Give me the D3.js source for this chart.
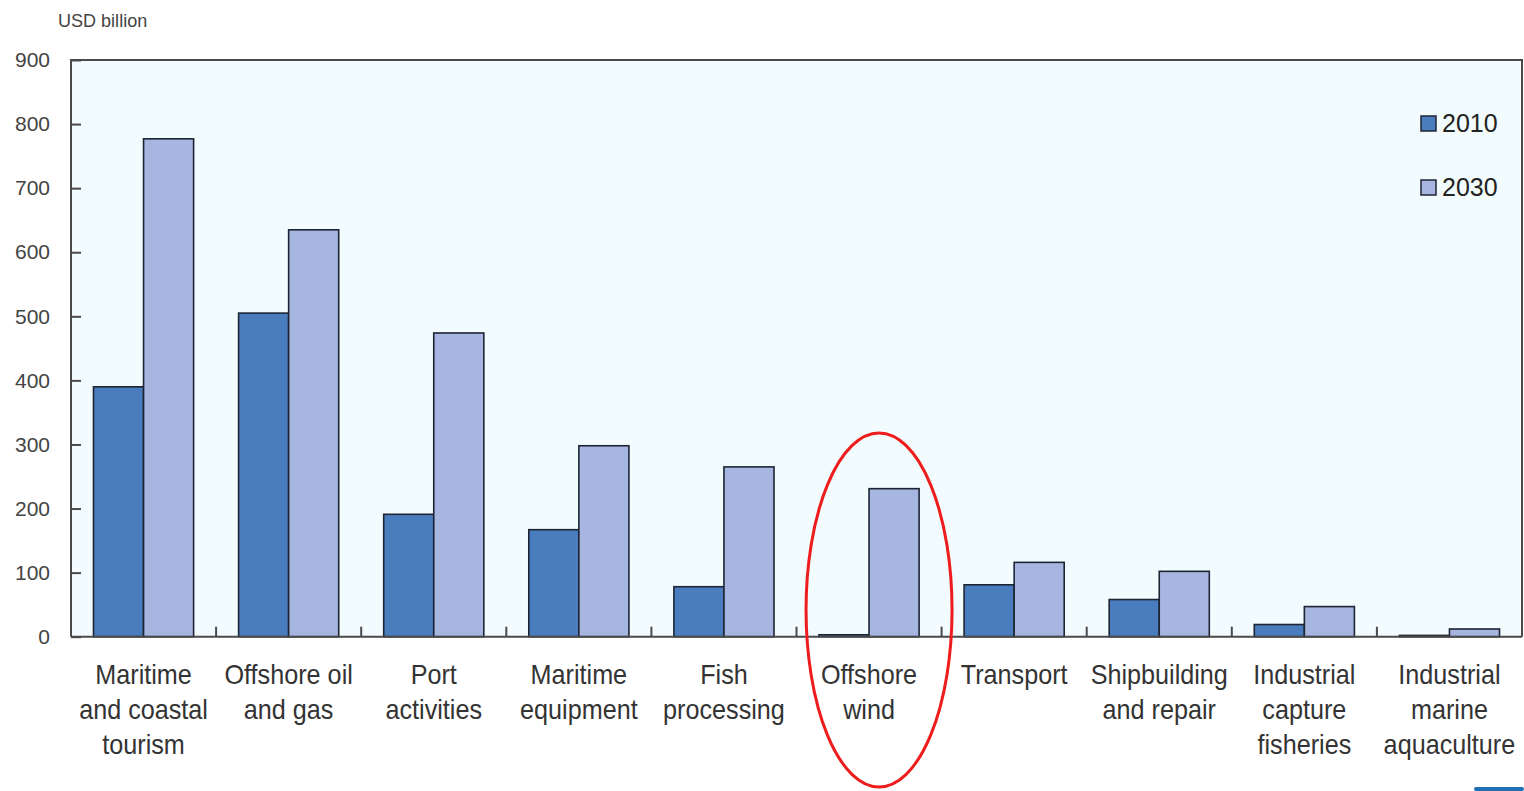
<!DOCTYPE html>
<html>
<head>
<meta charset="utf-8">
<script src="https://cdn.jsdelivr.net/npm/d3@7"></script>
<style>
  html, body { margin: 0; padding: 0; background: #ffffff; }
  svg { display: block; }
</style>
</head>
<body>
<svg id="chart" width="1524" height="791"></svg>
<script>
// Ocean economy output by industry, USD billion
const categories = [
  ["Maritime", "and coastal", "tourism"],
  ["Offshore oil", "and gas"],
  ["Port", "activities"],
  ["Maritime", "equipment"],
  ["Fish", "processing"],
  ["Offshore", "wind"],
  ["Transport"],
  ["Shipbuilding", "and repair"],
  ["Industrial", "capture", "fisheries"],
  ["Industrial", "marine", "aquaculture"]
];
const years = ["2010", "2030"];
const values2010 = [390, 505, 191, 167, 78, 3, 81, 58, 19, 2];
const values2030 = [777, 635, 474, 298, 265, 231, 116, 102, 47, 12];
const yTicks = [0, 100, 200, 300, 400, 500, 600, 700, 800, 900];
const highlighted = "Offshore wind";

const colors = { "2010": "#4a7dbd", "2030": "#a6b6e0" };

const svg = d3.select("#chart");
const plot = { left: 71, right: 1522, top: 60, bottom: 636.7 };

const catKeys = categories.map(c => c.join(" "));
const series = years.map((y, i) => ({ year: y, values: i === 0 ? values2010 : values2030 }));

const x0 = d3.scaleBand()
  .domain(catKeys)
  .range([plot.left, plot.right])
  .paddingInner(0.31)
  .paddingOuter(0.155);
const x1 = d3.scaleBand()
  .domain(years)
  .range([0, x0.bandwidth()]);
const y = d3.scaleLinear()
  .domain([0, 900])
  .range([plot.bottom, plot.top]);

// plot background
svg.append("rect")
  .attr("x", plot.left).attr("y", plot.top)
  .attr("width", plot.right - plot.left)
  .attr("height", plot.bottom - plot.top)
  .attr("fill", "#f2fbfd");

// bars
const groups = svg.append("g").selectAll("g")
  .data(catKeys)
  .join("g")
  .attr("transform", d => `translate(${x0(d)},0)`);

groups.selectAll("rect")
  .data((d, i) => series.map(s => ({ year: s.year, value: s.values[i] })))
  .join("rect")
  .attr("x", d => x1(d.year))
  .attr("y", d => y(d.value))
  .attr("width", x1.bandwidth())
  .attr("height", d => y(0) - y(d.value))
  .attr("fill", d => colors[d.year])
  .attr("stroke", "#1e2433")
  .attr("stroke-width", 1.6);

// frame: left axis line, top and right border, baseline
const frame = svg.append("g").attr("stroke", "#4a4a4a").attr("stroke-width", 2).attr("fill", "none");
frame.append("path")
  .attr("d", `M${plot.left},${plot.bottom}V${plot.top}H${plot.right}V${plot.bottom}`);

// y axis: inward ticks with labels on the left
const yAxis = d3.axisLeft(y)
  .tickValues(yTicks)
  .tickSize(-10)
  .tickPadding(21)
  .tickFormat(d3.format("d"));
const gy = svg.append("g")
  .attr("transform", `translate(${plot.left},0)`)
  .call(yAxis);
gy.select(".domain").remove();
gy.selectAll(".tick line").attr("stroke", "#4a4a4a").attr("stroke-width", 2);
gy.selectAll(".tick text")
  .attr("font-family", "Liberation Sans, Arial, sans-serif")
  .attr("font-size", 21)
  .attr("fill", "#444");

// x axis: baseline with short separators between categories
const boundaries = catKeys.slice(1).map(k => x0(k) - x0.step() * x0.paddingInner() / 2);
const gx = svg.append("g");
gx.append("line")
  .attr("x1", plot.left).attr("x2", plot.right)
  .attr("y1", plot.bottom).attr("y2", plot.bottom)
  .attr("stroke", "#4a4a4a").attr("stroke-width", 2);
gx.selectAll("line.sep")
  .data(boundaries)
  .join("line")
  .attr("class", "sep")
  .attr("x1", d => d).attr("x2", d => d)
  .attr("y1", plot.bottom).attr("y2", plot.bottom - 10)
  .attr("stroke", "#4a4a4a").attr("stroke-width", 2);

// category labels (multi-line, slightly condensed)
const labels = svg.append("g")
  .attr("font-family", "Liberation Sans, Arial, sans-serif")
  .attr("font-size", 28)
  .attr("fill", "#333");
categories.forEach((lines, i) => {
  const cx = x0(catKeys[i]) + x0.bandwidth() / 2;
  const t = labels.append("text")
    .attr("text-anchor", "middle")
    .attr("transform", `translate(${cx},684) scale(0.9,1)`);
  lines.forEach((ln, j) => {
    t.append("tspan").attr("x", 0).attr("y", j * 35).text(ln);
  });
});

// unit label
svg.append("text")
  .attr("x", 58).attr("y", 27)
  .attr("font-family", "Liberation Sans, Arial, sans-serif")
  .attr("font-size", 19)
  .attr("fill", "#444")
  .attr("transform", "translate(58,0) scale(0.95,1) translate(-58,0)")
  .text("USD billion");

// legend
const legend = svg.append("g")
  .attr("font-family", "Liberation Sans, Arial, sans-serif")
  .attr("font-size", 25)
  .attr("fill", "#222");
years.forEach((yr, i) => {
  const ly = 116 + i * 64;
  legend.append("rect")
    .attr("x", 1421).attr("y", ly)
    .attr("width", 15).attr("height", 15)
    .attr("fill", colors[yr])
    .attr("stroke", "#1e2433").attr("stroke-width", 1.5);
  legend.append("text")
    .attr("x", 1442).attr("y", ly + 16)
    .text(yr);
});

// highlight ring around one category
const hx = x0(highlighted) + x0.bandwidth() / 2 + 10;
svg.append("ellipse")
  .attr("cx", hx).attr("cy", 610)
  .attr("rx", 73).attr("ry", 177)
  .attr("fill", "none")
  .attr("stroke", "#ee1c1c")
  .attr("stroke-width", 3);

// small corner tab
svg.append("rect")
  .attr("x", 1474).attr("y", 787)
  .attr("width", 50).attr("height", 4)
  .attr("rx", 2)
  .attr("fill", "#1f6fb5");
</script>
</body>
</html>
